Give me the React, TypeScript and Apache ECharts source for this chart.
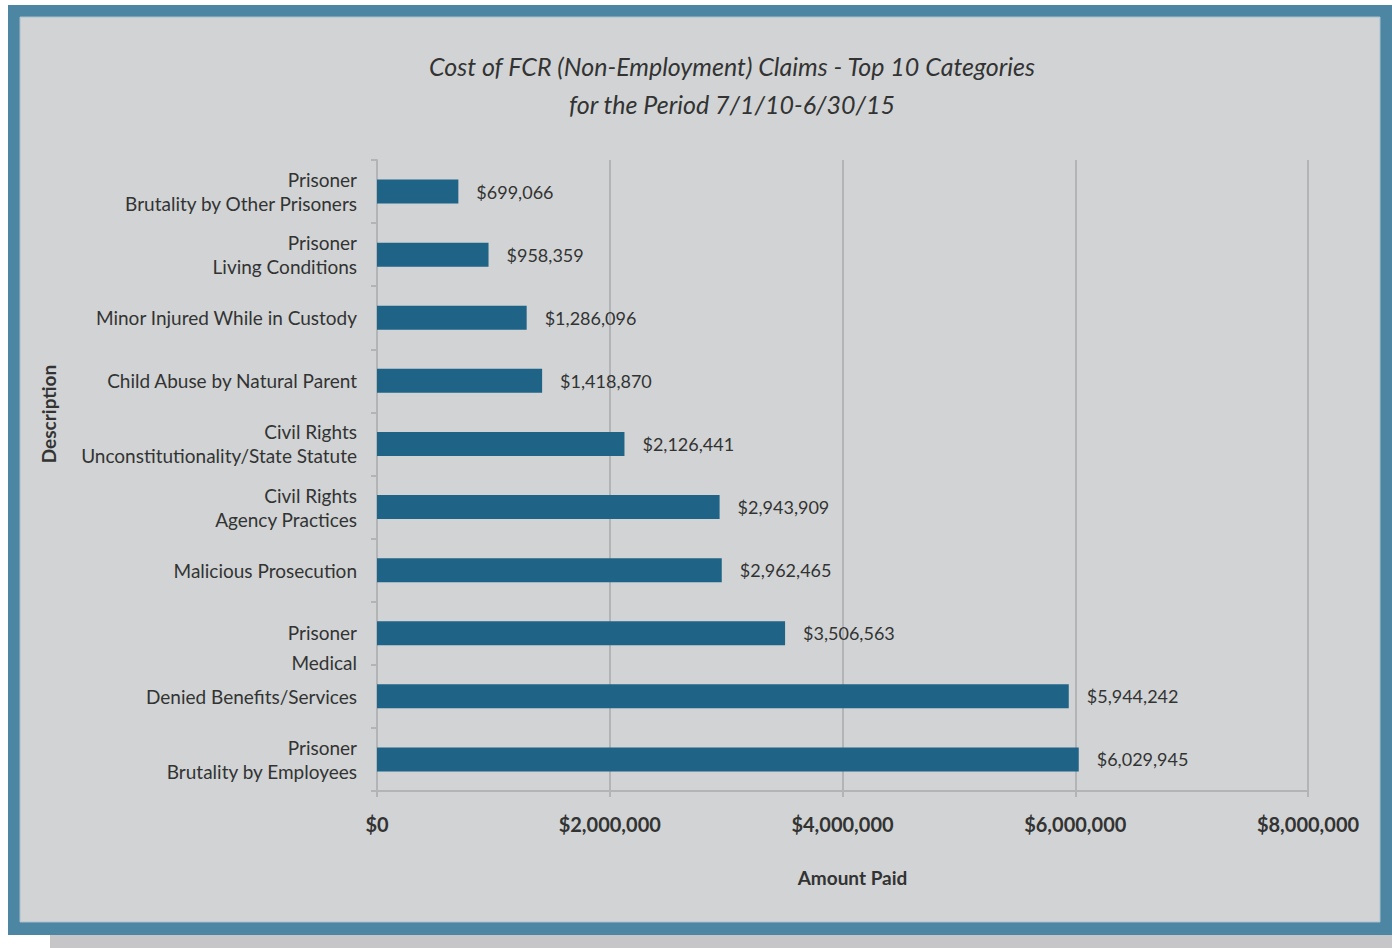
import React, { useEffect, useRef } from "react";
import * as echarts from "echarts";

const categories = [
  "Prisoner\nBrutality by Other Prisoners",
  "Prisoner\nLiving Conditions",
  "Minor Injured While in Custody",
  "Child Abuse by Natural Parent",
  "Civil Rights\nUnconstitutionality/State Statute",
  "Civil Rights\nAgency Practices",
  "Malicious Prosecution",
  "Prisoner\nMedical",
  "Denied Benefits/Services",
  "Prisoner\nBrutality by Employees",
];
const amounts = [699066, 958359, 1286096, 1418870, 2126441, 2943909, 2962465, 3506563, 5944242, 6029945];
const xTicks = [0, 2000000, 4000000, 6000000, 8000000];

const FONT = "Lato";
const fmt = (v: number) => "$" + v.toLocaleString("en-US");

export default function App() {
  const ref = useRef<HTMLDivElement>(null);
  useEffect(() => {
    document.body.style.margin = "0";
    const chart = echarts.init(ref.current!, null, { renderer: "svg" });
    chart.setOption({
      animation: false,
      backgroundColor: "#ffffff",
      graphic: [
        { type: "rect", silent: true, z: -10, shape: { x: 50, y: 930, width: 1342, height: 18 }, style: { fill: "#c6c6c8" } },
        { type: "rect", silent: true, z: -9, shape: { x: 8, y: 5, width: 1384, height: 930 }, style: { fill: "#4d86a3" } },
        { type: "rect", silent: true, z: -8, shape: { x: 20, y: 17, width: 1360, height: 905 }, style: { fill: "#d1d3d5", stroke: "#a9c0cc", lineWidth: 1 } },
        {
          type: "text", z: 10, x: 48, y: 414, rotation: Math.PI / 2,
          style: { text: "Description", font: `bold 19px ${FONT}`, fill: "#333", align: "center", verticalAlign: "middle" },
        },
      ],
      title: {
        text: "Cost of FCR (Non-Employment) Claims - Top 10 Categories\nfor the Period 7/1/10-6/30/15",
        left: 727,
        top: 42,
        textAlign: "center",
        textStyle: { fontFamily: FONT, fontStyle: "italic", fontWeight: "normal", fontSize: 25, lineHeight: 38, color: "#333" },
      },
      grid: { left: 377, right: 84, top: 160, bottom: 157 },
      xAxis: {
        type: "value",
        min: 0,
        max: 8000000,
        interval: 2000000,
        name: "Amount Paid",
        nameLocation: "middle",
        nameGap: 77,
        nameTextStyle: { fontFamily: FONT, fontWeight: "bold", fontSize: 19, color: "#333", padding: [0, 0, 0, 20] },
        axisLine: { show: true, lineStyle: { color: "#b2b4b6", width: 2 } },
        axisTick: { show: true, length: 6, lineStyle: { color: "#b2b4b6", width: 2 } },
        axisLabel: {
          formatter: (v: number) => (xTicks.includes(v) ? fmt(v) : ""),
          fontFamily: FONT, fontWeight: "bold", fontSize: 20, color: "#333", margin: 23,
        },
        splitLine: { show: true, lineStyle: { color: "#b2b4b6", width: 2 } },
      },
      yAxis: {
        type: "category",
        inverse: true,
        data: categories,
        axisLine: { show: true, lineStyle: { color: "#b2b4b6", width: 2 } },
        axisTick: { show: true, length: 6, lineStyle: { color: "#b2b4b6", width: 2 } },
        axisLabel: {
          margin: 20,
          align: "right",
          formatter: (v: string) => (v === "Prisoner\nMedical" ? "{m|Prisoner\nMedical}" : v),
          fontFamily: FONT, fontSize: 19, lineHeight: 24, color: "#333",
          rich: {
            m: { fontFamily: FONT, fontSize: 19, lineHeight: 30, color: "#333", padding: [28, 0, 0, 0] },
          },
        },
      },
      series: [
        {
          type: "bar",
          data: amounts,
          barWidth: 24,
          itemStyle: { color: "#1f6387" },
          label: {
            show: true,
            position: "right",
            distance: 18,
            formatter: (p: any) => fmt(p.value),
            fontFamily: FONT, fontSize: 18, color: "#333",
          },
        },
      ],
    });
    return () => chart.dispose();
  }, []);
  return <div ref={ref} style={{ width: 1392, height: 948 }} />;
}
